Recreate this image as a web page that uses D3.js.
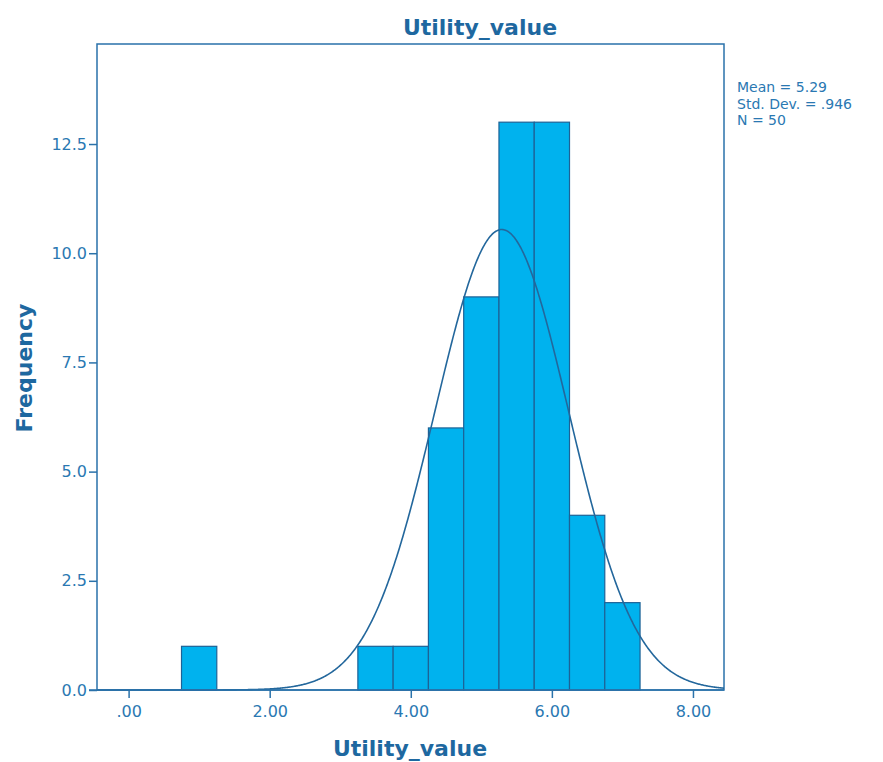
<!DOCTYPE html>
<html>
<head>
<meta charset="utf-8">
<script src="https://cdn.jsdelivr.net/npm/d3@7"></script>
<style>
  html, body { margin: 0; padding: 0; background: #ffffff; }
  svg text { font-family: "DejaVu Sans", sans-serif; }
</style>
</head>
<body>
<svg id="chart" width="883" height="762"></svg>
<script>
// Histogram bins (lower edge, upper edge) and their frequencies
const binStarts = [0.75, 3.25, 3.75, 4.25, 4.75, 5.25, 5.75, 6.25, 6.75];
const binEnds   = [1.25, 3.75, 4.25, 4.75, 5.25, 5.75, 6.25, 6.75, 7.25];
const counts    = [1, 1, 1, 6, 9, 13, 13, 4, 2];

// Summary statistics shown beside the plot
const mean = 5.29;
const stdDev = 0.946;
const n = 50;
const statLines = ["Mean = 5.29", "Std. Dev. = .946", "N = 50"];

// Axis ticks
const xTicks = [0, 2, 4, 6, 8];
const xTickLabels = [".00", "2.00", "4.00", "6.00", "8.00"];
const yTicks = [0, 2.5, 5, 7.5, 10, 12.5];
const yTickLabels = ["0.0", "2.5", "5.0", "7.5", "10.0", "12.5"];

const titleText = "Utility_value";
const xLabel = "Utility_value";
const yLabel = "Frequency";

const textColor = "#2a78b2";
const titleColor = "#1e68a0";
const lineColor = "#2a72aa";
const barFill = "#00b2ee";
const barStroke = "#1d6296";

const frame = { left: 97, right: 724, top: 44, bottom: 690 };

const svg = d3.select("#chart");

const x = d3.scaleLinear().domain([-0.448, 8.44]).range([frame.left, frame.right]);
const y = d3.scaleLinear().domain([0, 14.79]).range([frame.bottom, frame.top]);

// Plot frame
svg.append("rect")
  .attr("x", frame.left).attr("y", frame.top)
  .attr("width", frame.right - frame.left).attr("height", frame.bottom - frame.top)
  .attr("fill", "none").attr("stroke", lineColor).attr("stroke-width", 1.5);

// Bars
const bins = counts.map((c, i) => ({ x0: binStarts[i], x1: binEnds[i], c }));
svg.append("g").selectAll("rect").data(bins).join("rect")
  .attr("x", d => x(d.x0))
  .attr("y", d => y(d.c))
  .attr("width", d => x(d.x1) - x(d.x0))
  .attr("height", d => y(0) - y(d.c))
  .attr("fill", barFill)
  .attr("stroke", barStroke)
  .attr("stroke-width", 1.2);

// Normal curve scaled to counts: N * bin width * pdf
const binWidth = binEnds[0] - binStarts[0];
const xs = d3.range(0, 801).map(i => x.domain()[0] + (x.domain()[1] - x.domain()[0]) * i / 800);
const curve = xs.map(v => [v, n * binWidth * Math.exp(-0.5 * ((v - mean) / stdDev) ** 2) / (stdDev * Math.sqrt(2 * Math.PI))]);
svg.append("path")
  .datum(curve)
  .attr("fill", "none")
  .attr("stroke", "#23679c")
  .attr("stroke-width", 1.6)
  .attr("d", d3.line().x(d => x(d[0])).y(d => y(d[1])));

// Y axis
const yAxis = d3.axisLeft(y).tickValues(yTicks)
  .tickFormat((d, i) => yTickLabels[i]).tickSize(8).tickSizeOuter(0);
const gy = svg.append("g").attr("transform", `translate(${frame.left},0)`).call(yAxis);
gy.select(".domain").remove();
gy.selectAll(".tick line").attr("stroke", lineColor).attr("stroke-width", 1.5);
gy.selectAll(".tick text").attr("fill", textColor).attr("font-size", 16).attr("x", -10);

// X axis
const xAxis = d3.axisBottom(x).tickValues(xTicks)
  .tickFormat((d, i) => xTickLabels[i]).tickSize(8).tickSizeOuter(0);
const gx = svg.append("g").attr("transform", `translate(0,${frame.bottom})`).call(xAxis);
gx.select(".domain").remove();
gx.selectAll(".tick line").attr("stroke", lineColor).attr("stroke-width", 1.5);
gx.selectAll(".tick text").attr("fill", textColor).attr("font-size", 16).attr("y", 16);

// Baseline
svg.append("line")
  .attr("x1", frame.left - 8).attr("x2", frame.right)
  .attr("y1", y(0)).attr("y2", y(0))
  .attr("stroke", lineColor).attr("stroke-width", 1.5);

// Title and axis labels
svg.append("text")
  .attr("x", 480).attr("y", 35)
  .attr("text-anchor", "middle").attr("font-size", 22).attr("font-weight", "bold")
  .attr("fill", titleColor).text(titleText);

svg.append("text")
  .attr("x", 410).attr("y", 756)
  .attr("text-anchor", "middle").attr("font-size", 22).attr("font-weight", "bold")
  .attr("fill", titleColor).text(xLabel);

svg.append("text")
  .attr("transform", "translate(32,368) rotate(-90)")
  .attr("text-anchor", "middle").attr("font-size", 22).attr("font-weight", "bold")
  .attr("fill", titleColor).text(yLabel);

// Statistics block
svg.append("g").selectAll("text").data(statLines).join("text")
  .attr("x", 737).attr("y", (d, i) => 92 + i * 16.5)
  .attr("font-size", 14).attr("fill", textColor)
  .text(d => d);
</script>
</body>
</html>
